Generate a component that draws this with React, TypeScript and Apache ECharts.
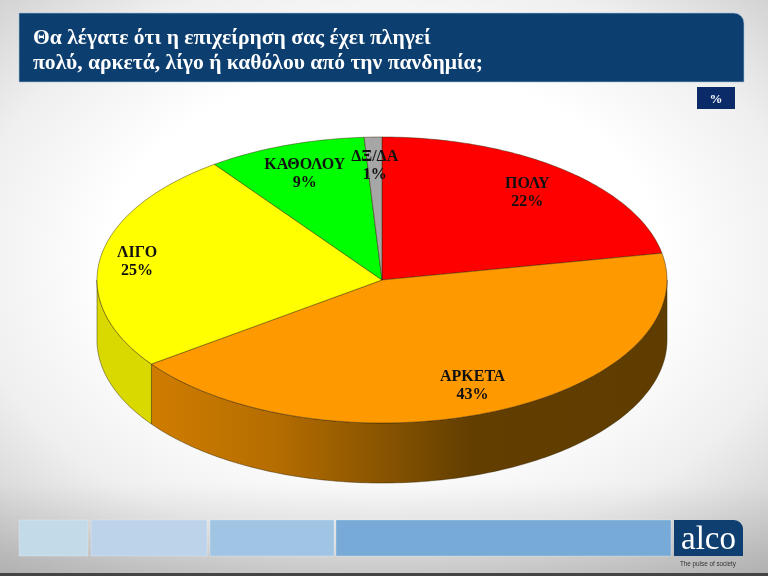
import React, { useEffect, useRef } from "react";
import * as echarts from "echarts";

const categories = ["ΠΟΛΥ", "ΑΡΚΕΤΑ", "ΛΙΓΟ", "ΚΑΘΟΛΟΥ", "ΔΞ/ΔΑ"];
const values = [22, 43, 25, 9, 1];
const sliceColors = ["#ff0000", "#ff9900", "#ffff00", "#00ff00", "#a6a6a6"];
const titleLines = [
  "Θα λέγατε ότι η επιχείρηση σας έχει πληγεί",
  "πολύ, αρκετά, λίγο ή καθόλου από την πανδημία;",
];
const unitLabel = "%";

const CX = 382;
const CY = 280;
const RX = 285;
const RY = 143;
const DEPTH = 60;
const LABEL_RADIUS = [0.8, 0.8, 0.87, 0.8, 0.81];
const EDGE = "rgba(50,35,0,0.65)";

const total = values.reduce((a, b) => a + b, 0);

function px(deg: number) {
  return CX + RX * Math.sin((deg * Math.PI) / 180);
}
function py(deg: number) {
  return CY - RY * Math.cos((deg * Math.PI) / 180);
}
function arc(from: number, to: number, dy = 0) {
  const n = Math.max(2, Math.ceil(Math.abs(to - from)));
  const pts: number[][] = [];
  for (let i = 0; i <= n; i++) {
    const d = from + ((to - from) * i) / n;
    pts.push([px(d), py(d) + dy]);
  }
  return pts;
}

function wallFill(index: number) {
  if (index === 1) {
    return new echarts.graphic.LinearGradient(0, 0, 1, 0, [
      { offset: 0, color: "#cf7d00" },
      { offset: 0.24, color: "#b56d00" },
      { offset: 0.44, color: "#8a5500" },
      { offset: 0.62, color: "#623e00" },
      { offset: 1, color: "#5f3c00" },
    ]);
  }
  return "#d9d900";
}

function renderSlice(params: any, api: any) {
  const i = params.dataIndex;
  const value = api.value(0);
  const before = values.slice(0, i).reduce((a, b) => a + b, 0);
  const start = (before / total) * 360;
  const end = start + (value / total) * 360;
  const mid = (start + end) / 2;
  const children: any[] = [];

  const wallFrom = Math.max(start, 90);
  const wallTo = Math.min(end, 270);
  if (wallTo > wallFrom) {
    const top = arc(wallFrom, wallTo);
    const bottom = arc(wallFrom, wallTo, DEPTH).reverse();
    children.push({
      type: "polygon",
      z2: 1,
      shape: { points: top.concat(bottom) },
      style: { fill: wallFill(i), stroke: EDGE, lineWidth: 0.7 },
    });
  }

  children.push({
    type: "polygon",
    z2: 2,
    shape: { points: [[CX, CY] as number[]].concat(arc(start, end)) },
    style: { fill: sliceColors[i], stroke: EDGE, lineWidth: 0.7 },
  });

  const r = LABEL_RADIUS[i];
  children.push({
    type: "text",
    z2: 10,
    style: {
      text: `${categories[i]}\n${value}%`,
      x: CX + r * RX * Math.sin((mid * Math.PI) / 180),
      y: CY - r * RY * Math.cos((mid * Math.PI) / 180),
      textAlign: "center",
      textVerticalAlign: "middle",
      font: 'bold 16px "Liberation Serif"',
      lineHeight: 18,
      fill: "#111111",
    },
  });
  return { type: "group", children };
}

export default function App() {
  const ref = useRef<HTMLDivElement>(null);
  useEffect(() => {
    document.body.style.margin = "0";
    const chart = echarts.init(ref.current!, undefined, { renderer: "svg" });
    const blocks = [
      { x: 19, w: 69, c: "#c3dae9" },
      { x: 91, w: 116, c: "#bcd3ea" },
      { x: 210, w: 124, c: "#9fc4e4" },
      { x: 336, w: 335, c: "#77aad6" },
    ];
    chart.setOption({
      animation: false,
      backgroundColor: "transparent",
      graphic: [
        {
          type: "rect",
          z: -9,
          shape: { x: 0, y: 573, width: 768, height: 3 },
          style: { fill: "#444444" },
        },
        {
          type: "rect",
          z: -5,
          shape: { x: 19, y: 13, width: 725, height: 69, r: [0, 10, 0, 0] },
          style: { fill: "#0c3f70", stroke: "#a9c3da", lineWidth: 0.6 },
        },
        {
          type: "text",
          z: -4,
          style: {
            text: titleLines.join("\n"),
            x: 33,
            y: 24,
            font: 'bold 21.6px "Liberation Serif"',
            lineHeight: 25,
            fill: "#ffffff",
          },
        },
        {
          type: "rect",
          z: -5,
          shape: { x: 697, y: 87, width: 38, height: 22 },
          style: { fill: "#0b2a68" },
        },
        {
          type: "text",
          z: -4,
          style: {
            text: unitLabel,
            x: 716,
            y: 98,
            textAlign: "center",
            textVerticalAlign: "middle",
            font: 'bold 13px "Liberation Serif"',
            fill: "#ffffff",
          },
        },
        ...blocks.map((b) => ({
          type: "rect",
          z: -5,
          shape: { x: b.x, y: 520, width: b.w, height: 36 },
          style: { fill: b.c, stroke: "rgba(255,255,255,0.3)", lineWidth: 0.8 },
        })),
        {
          type: "rect",
          z: -5,
          shape: { x: 674, y: 520, width: 69, height: 36, r: [0, 9, 0, 0] },
          style: { fill: "#0e3f70" },
        },
        {
          type: "text",
          z: -4,
          style: {
            text: "alco",
            x: 708.5,
            y: 538,
            textAlign: "center",
            textVerticalAlign: "middle",
            font: '500 33px "Liberation Serif"',
            fill: "#ffffff",
          },
        },
        {
          type: "text",
          z: -4,
          style: {
            text: "The pulse of society",
            x: 708,
            y: 563,
            textAlign: "center",
            textVerticalAlign: "middle",
            font: '6.3px "Liberation Sans"',
            fill: "#333333",
          },
        },
      ],
      series: [
        {
          type: "custom",
          coordinateSystem: "none",
          silent: true,
          clip: false,
          renderItem: renderSlice,
          data: values.map((v) => [v]),
        },
      ],
    });
    return () => chart.dispose();
  }, []);
  return (
    <div
      ref={ref}
      style={{
        position: "fixed",
        left: 0,
        top: 0,
        width: 768,
        height: 576,
        background:
          "linear-gradient(to bottom, rgba(120,120,120,0) 84%, rgba(120,120,120,0.28) 100%), radial-gradient(ellipse 78% 72% at 50% 45%, #ffffff 0%, #ffffff 46%, #efefef 70%, #c4c4c4 100%)",
      }}
    />
  );
}
